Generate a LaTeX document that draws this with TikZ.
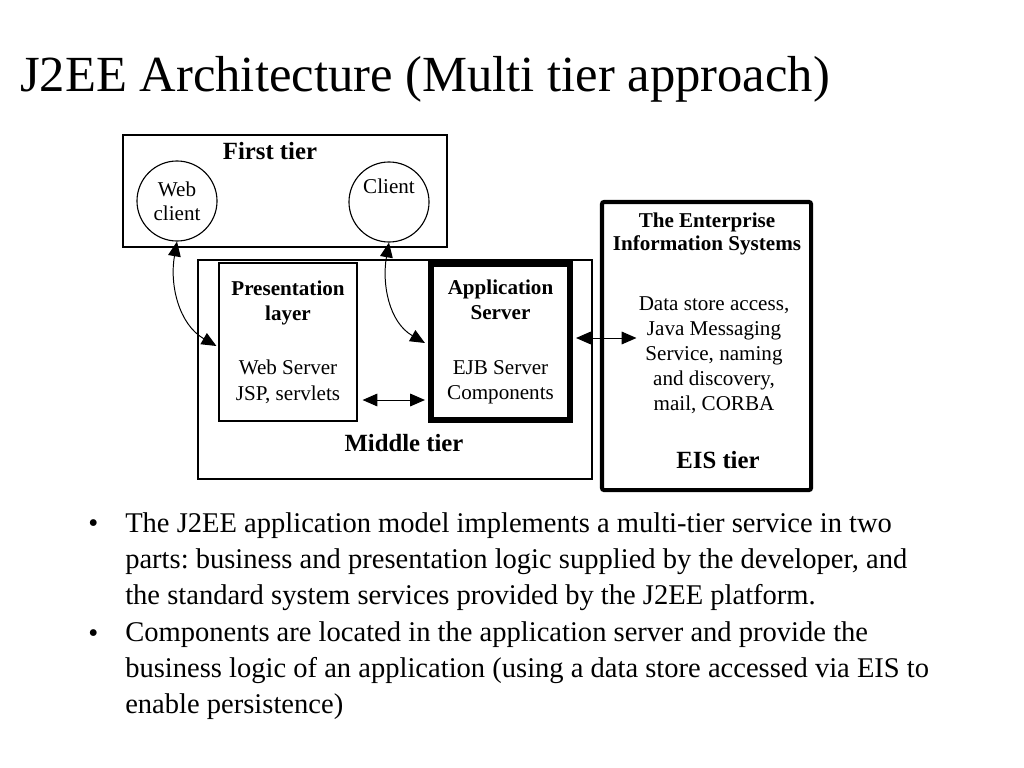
\documentclass[tikz,border=0pt]{standalone}
\usepackage{fontspec}
\setmainfont{Liberation Serif}
\usetikzlibrary{arrows.meta, positioning, fit}
\frenchspacing

\begin{document}
\begin{tikzpicture}[
  x=0.025cm, y=-0.025cm,
  tierbox/.style={rectangle, draw=black, line width=0.8pt, inner sep=0pt},
  layerbox/.style={rectangle, draw=black, line width=0.8pt, inner sep=0pt,
                   align=center, font=\fontsize{15}{17.8}\selectfont},
  appbox/.style={layerbox, line width=4.3pt},
  eisbox/.style={rectangle, draw=black, line width=2.9pt, rounded corners=1.5pt, inner sep=0pt},
  clientnode/.style={circle, draw=black, line width=0.8pt, minimum size=2cm, inner sep=0pt,
                     align=center, font=\fontsize{15}{17}\selectfont},
  txt/.style={align=center, inner sep=0pt, font=\fontsize{15}{17.8}\selectfont},
  tierlabel/.style={inner sep=0pt, font=\fontsize{17.6}{20}\selectfont\bfseries},
  dbl/.style={{Triangle[length=10.5pt, width=9pt]}-{Triangle[length=10.5pt, width=9pt]}, line width=0.7pt},
  bullettext/.style={align=left, inner sep=0pt, anchor=base west, font=\fontsize{20.3}{25.6}\selectfont}
]
\useasboundingbox (0,0) rectangle (1024,768);

% Title
\node[anchor=base west, inner sep=0pt, font=\fontsize{36}{40}\selectfont] (title) at (20,92)
  {J2EE Architecture (Multi tier approach)};

% First tier
\node[tierbox, fit={(123,135) (447,247)}] (first) {};
\node[tierlabel] (firstlbl) at (270,151) {First tier};
\node[clientnode] (webc) at (177,201) {Web\\client};
\node[clientnode] (client) at (389,202) {};
\node[txt] (clientlbl) at (389,186) {Client};

% Middle tier
\node[tierbox, fit={(198,260) (592,479)}] (middle) {};
\node[layerbox, minimum width=3.45cm, minimum height=3.95cm] (pres) at (288,342)
  {\textbf{Presentation}\\\textbf{layer}\\[21pt]Web Server\\JSP, servlets};
\node[appbox, minimum width=3.475cm, minimum height=3.9cm] (app) at (500.5,342)
  {\textbf{Application}\\\textbf{Server}\\[21pt]EJB Server\\Components};
\node[tierlabel] (middlelbl) at (404,443) {Middle tier};

% EIS tier
\node[eisbox, minimum width=5.225cm, minimum height=7.2cm] (eis) at (706.5,346) {};
\node[txt, font=\fontsize{15}{17}\selectfont\bfseries] (eishead) at (707,234)
  {The Enterprise\\Information Systems};
\node[txt] (eisbody) at (714,355)
  {Data store access,\\Java Messaging\\Service, naming\\and discovery,\\mail, CORBA};
\node[tierlabel] (eislbl) at (718,460) {EIS tier};

% Connections
\draw[dbl] (webc.south) to[out=-100, in=150] ([shift={(-2,4)}]pres.west);
\draw[dbl] (client.south) to[out=-100, in=150] ([shift={(-3,1)}]app.west);
\draw[dbl] ([shift={(5,58)}]pres.east) -- ([shift={(-3,58)}]app.west);
\draw[dbl] ([shift={(3,-4)}]app.east) -- ([shift={(-2,-4)}]app.east -| eisbody.west);

% Bullet points
\node[bullettext] (dotA) at (88,532) {•};
\node[bullettext] (bulletA) at (125,604)
  {The J2EE application model implements a multi-tier service in two\\
   parts: business and presentation logic supplied by the developer, and\\
   the standard system services provided by the J2EE platform.};
\node[bullettext] (dotB) at (88,642) {•};
\node[bullettext] (bulletB) at (125,713)
  {Components are located in the application server and provide the\\
   business logic of an application (using a data store accessed via EIS to\\
   enable persistence)};

\end{tikzpicture}
\end{document}
